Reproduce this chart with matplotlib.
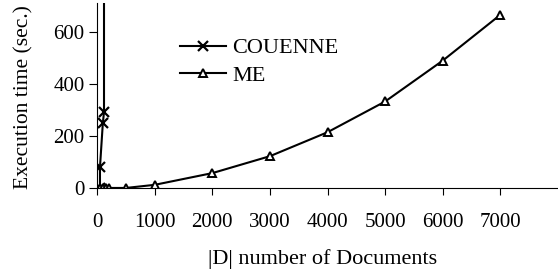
import matplotlib
matplotlib.use('Agg')
import matplotlib.pyplot as plt

plt.rcParams['font.family'] = ['Liberation Serif', 'DejaVu Serif']
plt.rcParams['font.size'] = 15

# COUENNE (last point runs far off the top of the chart)
couenne_x = [50, 50, 100, 120, 120]
couenne_y = [0, 80, 250, 290, 5000]

# ME
me_x = [50, 100, 150, 200, 500, 1000, 2000, 3000, 4000, 5000, 6000, 7000]
me_y = [0, 0, 0, 0, 0, 12, 57, 122, 214, 332, 489, 665]

x_ticks = [0, 1000, 2000, 3000, 4000, 5000, 6000, 7000]
y_ticks = [0, 200, 400, 600]

fig = plt.figure(figsize=(5.58, 2.76), dpi=100)
ax = fig.add_axes([0.174, 0.319, 0.826, 0.67])

ax.plot(couenne_x, couenne_y, color='k', lw=1.5, marker='x', ms=7,
        mew=1.6, label='COUENNE')
ax.plot(me_x, me_y, color='k', lw=1.5, marker='^', ms=6,
        mfc='white', mew=1.4, label='ME')

ax.set_xlim(0, 8000)
ax.set_ylim(0, 710)
ax.set_xticks(x_ticks)
ax.set_yticks(y_ticks)

for s in ['top', 'right']:
    ax.spines[s].set_visible(False)
ax.tick_params(axis='x', direction='out', length=5, pad=13)
ax.tick_params(axis='y', direction='out', length=6, pad=3)

ax.set_xlabel('|D| number of Documents', fontsize=16)
ax.xaxis.set_label_coords(0.49, -0.33)
ax.set_ylabel('Execution time (sec.)', fontsize=15.5)
ax.yaxis.set_label_coords(-0.137, 0.49)

ax.legend(loc='upper left', bbox_to_anchor=(0.16, 0.86), frameon=False,
          fontsize=16, handlelength=2.1, handletextpad=0.27,
          labelspacing=0.32, borderaxespad=0)

fig.savefig('out.png', dpi=100)
